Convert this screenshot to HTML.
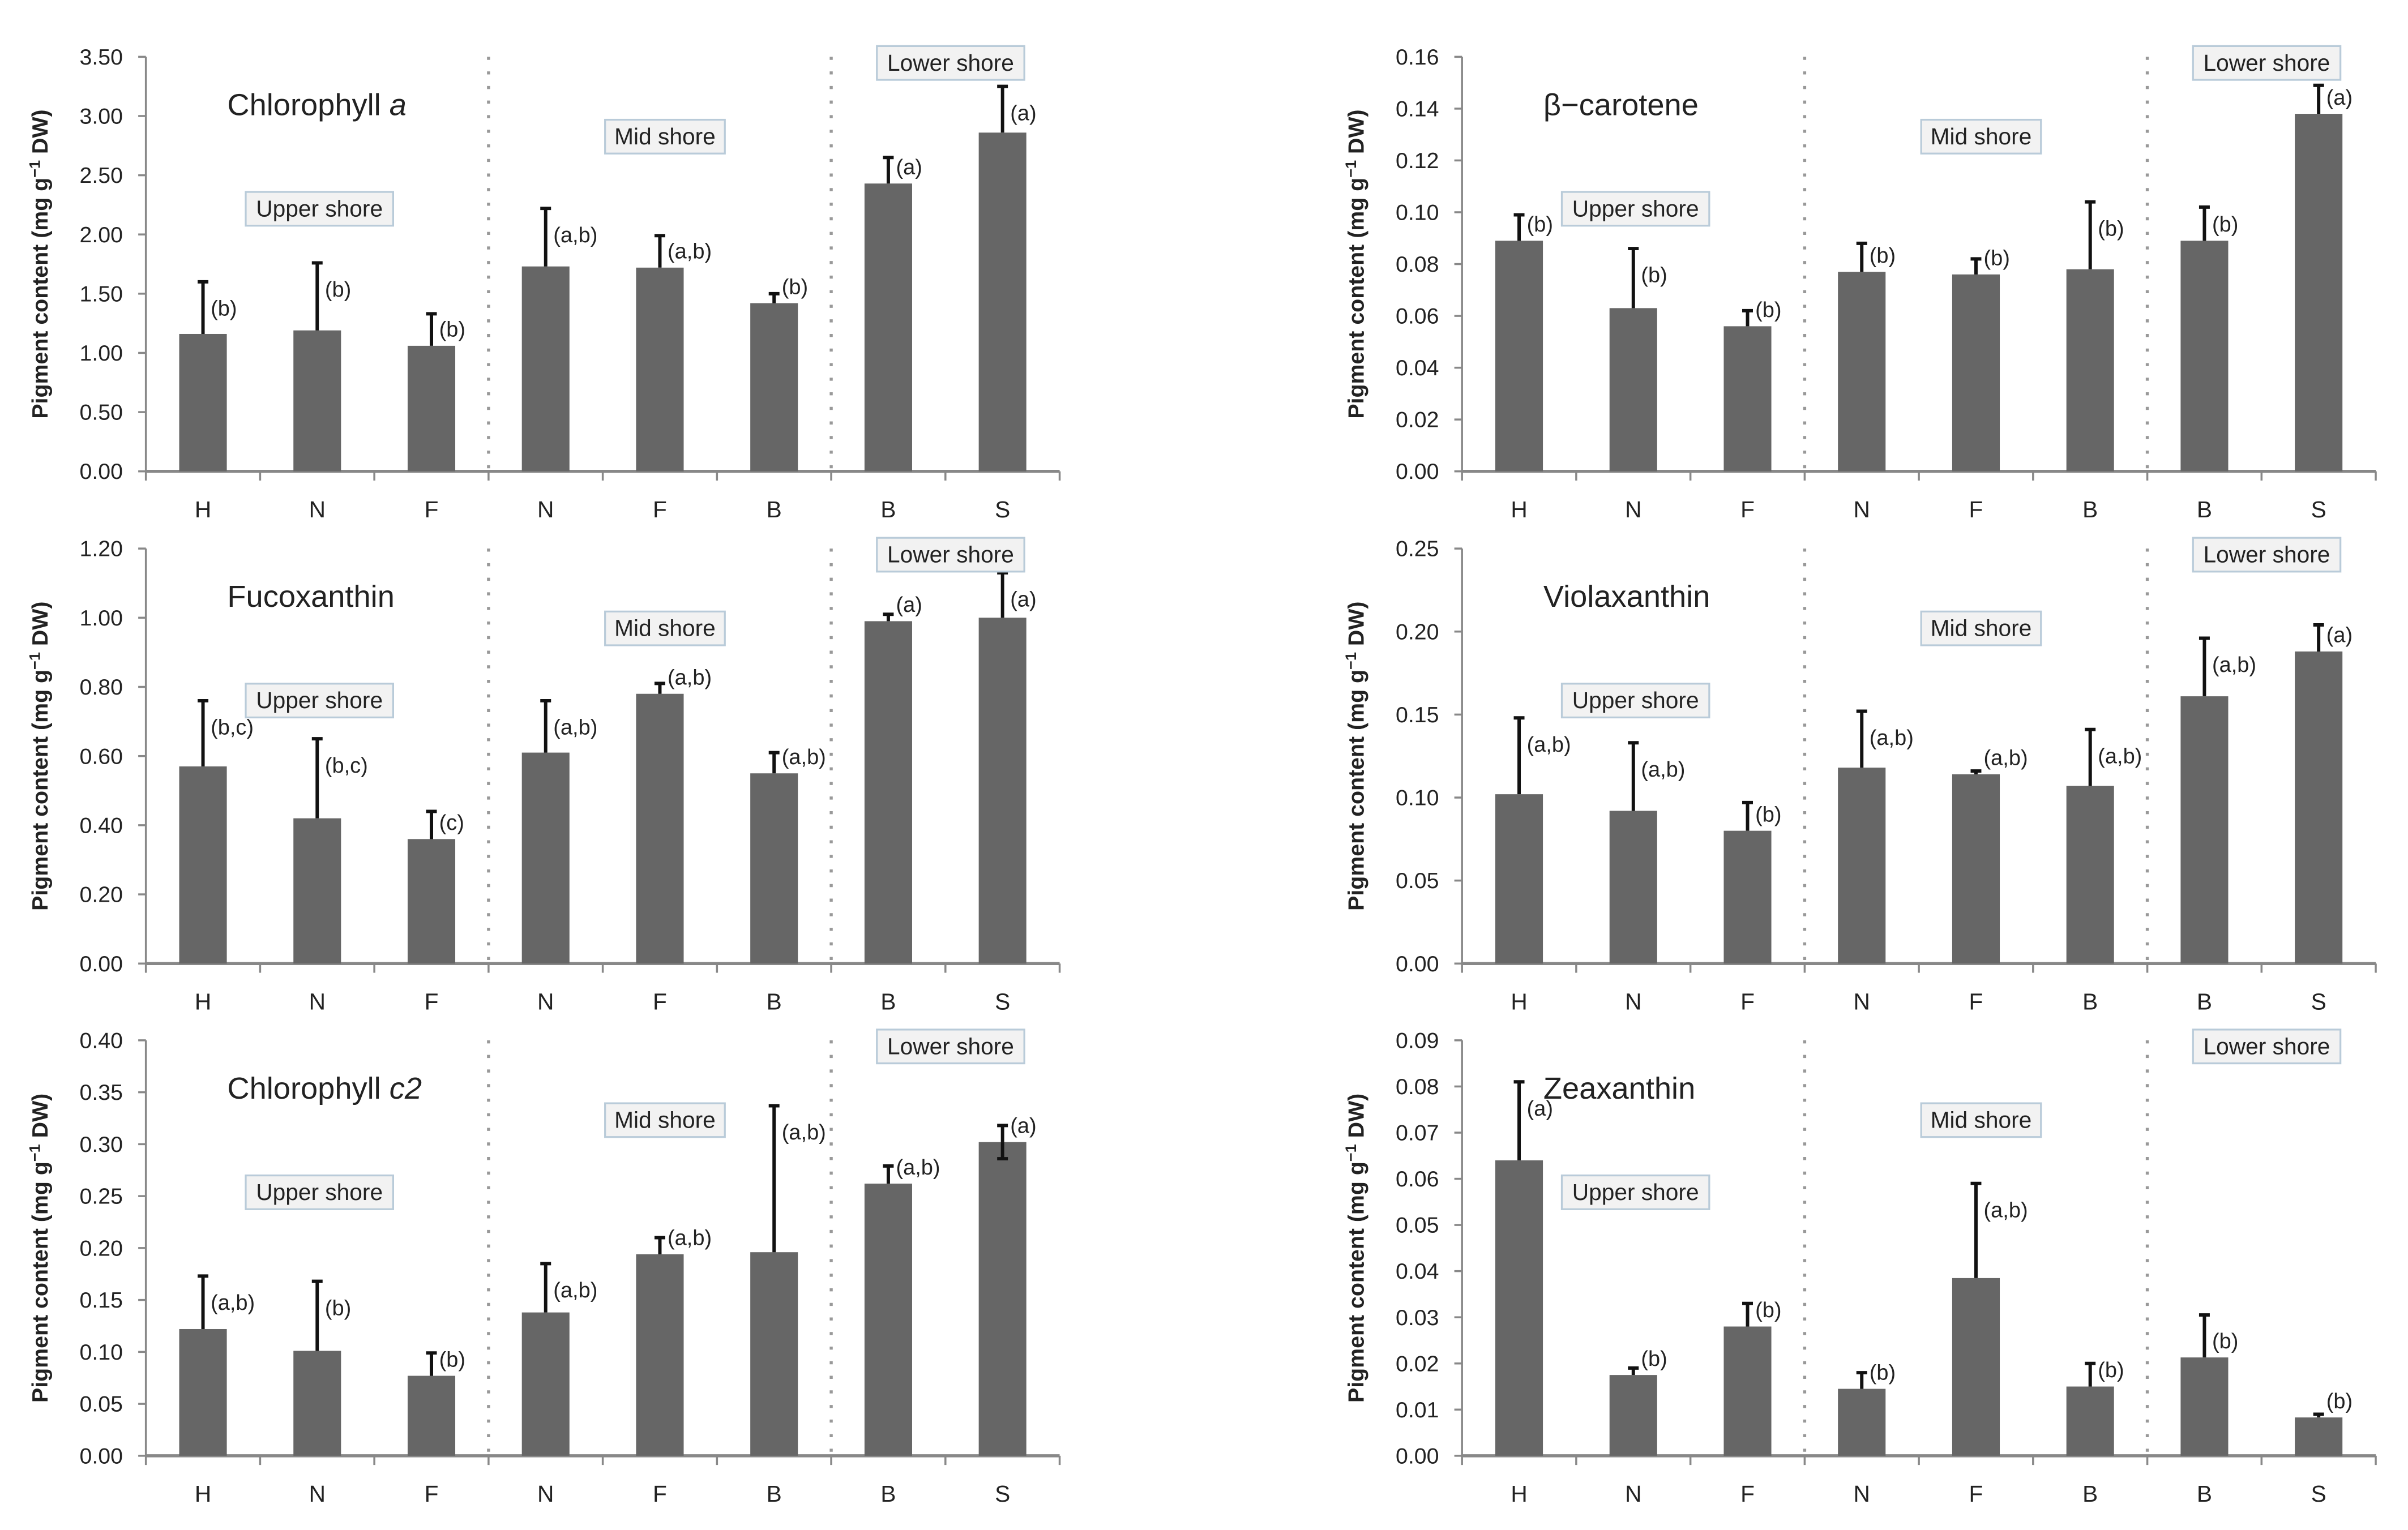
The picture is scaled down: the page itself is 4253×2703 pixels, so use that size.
<!DOCTYPE html>
<html><head><meta charset="utf-8">
<style>
html,body{margin:0;padding:0;background:#fff;}
svg{display:block;}
text{font-family:"Liberation Sans Narrow","Liberation Sans",sans-serif;fill:#222;}
</style></head>
<body>
<svg id="fig" xmlns="http://www.w3.org/2000/svg" width="4253" height="2703" viewBox="0 0 1568 996.55" preserveAspectRatio="none"></svg>
<script>
const categories = ["H","N","F","N","F","B","B","S"];
const chlaValues = [1.16,1.19,1.06,1.73,1.72,1.42,2.43,2.86];
const chlaErrTop = [1.60,1.76,1.33,2.22,1.99,1.50,2.65,3.25];
const chlaLetters = ["(b)","(b)","(b)","(a,b)","(a,b)","(b)","(a)","(a)"];
const chlaTicks = ["0.00","0.50","1.00","1.50","2.00","2.50","3.00","3.50"];
const fucoValues = [0.57,0.42,0.36,0.61,0.78,0.55,0.99,1.00];
const fucoErrTop = [0.76,0.65,0.44,0.76,0.81,0.61,1.01,1.13];
const fucoLetters = ["(b,c)","(b,c)","(c)","(a,b)","(a,b)","(a,b)","(a)","(a)"];
const fucoTicks = ["0.00","0.20","0.40","0.60","0.80","1.00","1.20"];
const c2Values = [0.122,0.101,0.077,0.138,0.194,0.196,0.262,0.302];
const c2ErrTop = [0.173,0.168,0.099,0.185,0.210,0.337,0.279,0.318];
const c2Letters = ["(a,b)","(b)","(b)","(a,b)","(a,b)","(a,b)","(a,b)","(a)"];
const c2Ticks = ["0.00","0.05","0.10","0.15","0.20","0.25","0.30","0.35","0.40"];
const betaValues = [0.089,0.063,0.056,0.077,0.076,0.078,0.089,0.138];
const betaErrTop = [0.099,0.086,0.062,0.088,0.082,0.104,0.102,0.149];
const betaLetters = ["(b)","(b)","(b)","(b)","(b)","(b)","(b)","(a)"];
const betaTicks = ["0.00","0.02","0.04","0.06","0.08","0.10","0.12","0.14","0.16"];
const violaValues = [0.102,0.092,0.080,0.118,0.114,0.107,0.161,0.188];
const violaErrTop = [0.148,0.133,0.097,0.152,0.116,0.141,0.196,0.204];
const violaLetters = ["(a,b)","(a,b)","(b)","(a,b)","(a,b)","(a,b)","(a,b)","(a)"];
const violaTicks = ["0.00","0.05","0.10","0.15","0.20","0.25"];
const zeaValues = [0.064,0.0175,0.028,0.0145,0.0385,0.015,0.0213,0.0083];
const zeaErrTop = [0.081,0.019,0.033,0.018,0.059,0.020,0.0305,0.009];
const zeaLetters = ["(a)","(b)","(b)","(b)","(a,b)","(b)","(b)","(b)"];
const zeaTicks = ["0.00","0.01","0.02","0.03","0.04","0.05","0.06","0.07","0.08","0.09"];

const NS="http://www.w3.org/2000/svg";
const svg=document.getElementById('fig');
function mk(tag,attrs,parent,txt){const e=document.createElementNS(NS,tag);for(const k in attrs)e.setAttribute(k,attrs[k]);if(txt!==undefined)e.textContent=txt;(parent||svg).appendChild(e);return e;}

const panels=[
 {key:"chlorophyll-a",title:"Chlorophyll ",ital:"a",vals:chlaValues,err:chlaErrTop,let:chlaLetters,ticks:chlaTicks,col:0,row:0},
 {key:"fucoxanthin",title:"Fucoxanthin",vals:fucoValues,err:fucoErrTop,let:fucoLetters,ticks:fucoTicks,col:0,row:1},
 {key:"chlorophyll-c2",title:"Chlorophyll ",ital:"c2",vals:c2Values,err:c2ErrTop,let:c2Letters,ticks:c2Ticks,col:0,row:2,lowerIdx:7,lowerVal:0.286},
 {key:"beta-carotene",title:"β−carotene",vals:betaValues,err:betaErrTop,let:betaLetters,ticks:betaTicks,col:1,row:0},
 {key:"violaxanthin",title:"Violaxanthin",vals:violaValues,err:violaErrTop,let:violaLetters,ticks:violaTicks,col:1,row:1},
 {key:"zeaxanthin",title:"Zeaxanthin",vals:zeaValues,err:zeaErrTop,let:zeaLetters,ticks:zeaTicks,col:1,row:2}
];

panels.forEach(p=>{
  const x0 = p.col===0?95:952, x1 = x0+595;
  const top = 37+p.row*320.3, zero = 307+p.row*320.6;
  const ymax = parseFloat(p.ticks[p.ticks.length-1]);
  const y = v => zero-(v/ymax)*(zero-top);
  const step=(x1-x0)/8;
  const xc = i => x0+step*(i+0.5);
  const g=mk('g',{});
  
  
  const ya=mk('line',{x1:x0,y1:top,x2:x0,y2:zero,stroke:'#888','stroke-width':1.3},g);
  
  p.ticks.forEach(t=>{
    const v=parseFloat(t),yy=y(v);
    const tl=mk('line',{x1:x0-5,y1:yy,x2:x0,y2:yy,stroke:'#888','stroke-width':1.3},g);
    
    const tx=mk('text',{x:x0-15,y:yy+5,'text-anchor':'end','font-size':14.5},g,t);
    
  });
  const xa=mk('line',{x1:x0,y1:zero,x2:x1,y2:zero,stroke:'#888','stroke-width':2},g);
  
  for(let i=0;i<=8;i++){const tl=mk('line',{x1:x0+step*i,y1:zero,x2:x0+step*i,y2:zero+6,stroke:'#888','stroke-width':1.3},g);
    }
  categories.forEach((c,i)=>{const t=mk('text',{x:xc(i),y:zero+30,'text-anchor':'middle','font-size':15},g,c);
    });
  [3,6].forEach(k=>{const d=mk('line',{x1:x0+step*k,y1:top,x2:x0+step*k,y2:zero,stroke:'#999','stroke-width':2,'stroke-dasharray':'2 7.5'},g);
    });
  p.vals.forEach((v,i)=>{
    const b=mk('rect',{x:xc(i)-15.5,y:y(v),width:31,height:zero-y(v),fill:'#666'},g);
    
    const et=y(p.err[i]);
    const e=mk('path',{d:`M${xc(i)} ${y(v)}V${et}M${xc(i)-3.5} ${et}H${xc(i)+3.5}`,stroke:'#111','stroke-width':2.2,fill:'none'},g);
    
    if(p.lowerIdx===i){const yl=y(p.lowerVal);const e2=mk('path',{d:`M${xc(i)} ${y(v)}V${yl}M${xc(i)-3.5} ${yl}H${xc(i)+3.5}`,stroke:'#111','stroke-width':2.2,fill:'none'},g);
      }
    const ly=Math.min(et+22, y(v)-6);
    const l=mk('text',{x:xc(i)+5,y:ly,'font-size':14},g,p.let[i]);
    
  });
  const tt=mk('text',{x:x0+53,y:top+38,'font-size':20},g,p.title);
  
  if(p.ital){mk('tspan',{'font-style':'italic'},tt,p.ital);}
  const boxes=[["Upper shore",x0+113,top+88],["Mid shore",x0+338,top+41],["Lower shore",x0+524,top-7]];
  boxes.forEach(([txt,cx,by])=>{
    const w = txt==="Mid shore"?78:96;
    const bg=mk('g',{},g);
    
    mk('rect',{x:cx-w/2,y:by,width:w,height:22,fill:'#f2f2f2',stroke:'#b9cbd9','stroke-width':1.2},bg);
    mk('text',{x:cx,y:by+16,'text-anchor':'middle','font-size':15},bg,txt);
  });
  const yt=mk('text',{x:0,y:0,'font-size':14.5,'font-weight':'bold','text-anchor':'middle',transform:`translate(${x0-64},${(top+zero)/2}) rotate(-90)`,style:'font-family:"Liberation Sans",sans-serif'},g);
  
  yt.appendChild(document.createTextNode('Pigment content (mg g'));
  mk('tspan',{dy:-5,'font-size':10},yt,'−1');
  mk('tspan',{dy:5},yt,' DW)');
});
</script>
</body></html>
